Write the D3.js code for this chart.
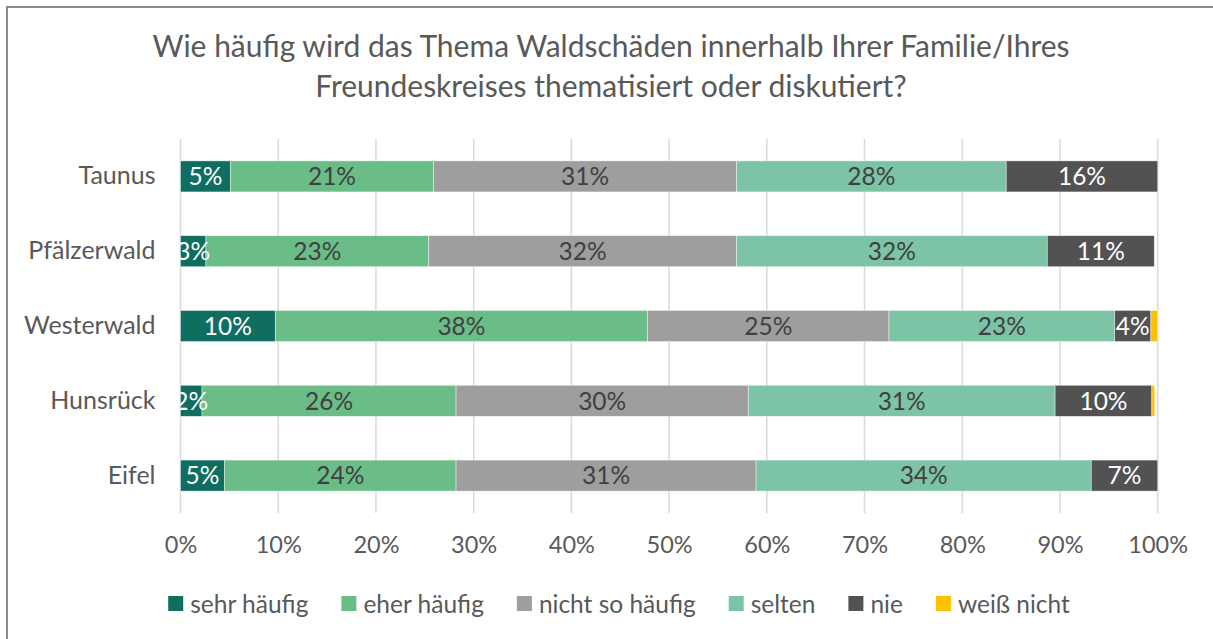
<!DOCTYPE html>
<html>
<head>
<meta charset="utf-8">
<script src="https://cdn.jsdelivr.net/npm/d3@7"></script>
<style>
  body { margin: 0; background: #fff; }
  text { font-family: Lato, "Open Sans", sans-serif; }
</style>
</head>
<body>
<script>
// regions, top to bottom
var regions = ["Taunus", "Pfälzerwald", "Westerwald", "Hunsrück", "Eifel"];

var answers = ["sehr häufig", "eher häufig", "nicht so häufig", "selten", "nie", "weiß nicht"];
var colors = ["#0f6e5f", "#6bbd87", "#9e9e9e", "#7dc4a7", "#525252", "#ffc000"];
var labelColors = ["#fff", "#404040", "#404040", "#404040", "#fff", "#404040"];

// percent per answer, same order as regions
var sehrHaeufig  = [5.1, 2.6, 9.7, 2.2, 4.5];
var eherHaeufig  = [20.8, 22.8, 38.1, 26.0, 23.7];
var nichtSo      = [31.0, 31.5, 24.7, 29.9, 30.7];
var selten       = [27.6, 31.8, 23.1, 31.4, 34.3];
var nie          = [15.5, 10.95, 3.7, 9.9, 6.8];
var weissNicht   = [0, 0, 0.7, 0.3, 0];

var ticks = [0, 10, 20, 30, 40, 50, 60, 70, 80, 90, 100];

var W = 1213, H = 639;
var series = [sehrHaeufig, eherHaeufig, nichtSo, selten, nie, weissNicht];
var rows = regions.map(function(r, i) {
  var o = { region: r };
  answers.forEach(function(a, k) { o[a] = series[k][i]; });
  return o;
});

var svg = d3.select("body").append("svg")
  .attr("width", W)
  .attr("height", H);

// chart border, cut off on the right and bottom like the screenshot
svg.append("rect")
  .attr("x", 7).attr("y", 7)
  .attr("width", W + 20).attr("height", H + 20)
  .attr("fill", "#fff")
  .attr("stroke", "#8c8c8c")
  .attr("stroke-width", 2);

// title
var title = svg.append("text")
  .attr("text-anchor", "middle")
  .attr("fill", "#595959")
  .style("font-size", "30px");
title.append("tspan").attr("x", 611).attr("y", 57)
  .text("Wie häufig wird das Thema Waldschäden innerhalb Ihrer Familie/Ihres");
title.append("tspan").attr("x", 611).attr("y", 97)
  .text("Freundeskreises thematisiert oder diskutiert?");

var x = d3.scaleLinear().domain([0, 100]).range([180.5, 1157.7]);
var y = d3.scaleBand().domain(regions).range([139, 513])
  .paddingInner(0.585).paddingOuter(0.2925);

// gridlines
svg.append("g").selectAll("line")
  .data(ticks)
  .join("line")
  .attr("x1", function(d) { return x(d); })
  .attr("x2", function(d) { return x(d); })
  .attr("y1", 139).attr("y2", 513)
  .attr("stroke", "#d9d9d9")
  .attr("stroke-width", 1.5);

// x axis labels
var xAxis = svg.append("g")
  .attr("transform", "translate(0,513)")
  .call(d3.axisBottom(x).tickValues(ticks).tickSize(0).tickPadding(23)
    .tickFormat(function(d) { return d + "%"; }));
xAxis.select(".domain").remove();
xAxis.selectAll("text")
  .attr("fill", "#595959")
  .style("font-size", "23.5px")
  .style("font-family", "Lato, sans-serif");

// y axis labels
var yAxis = svg.append("g")
  .attr("transform", "translate(180.5,0)")
  .call(d3.axisLeft(y).tickSize(0).tickPadding(25));
yAxis.select(".domain").remove();
yAxis.selectAll("text")
  .attr("fill", "#595959")
  .style("font-size", "25px")
  .style("font-family", "Lato, sans-serif");

var stacked = d3.stack().keys(answers)(rows);

svg.append("defs").append("clipPath").attr("id", "plot")
  .append("rect")
  .attr("x", x(0)).attr("y", 130)
  .attr("width", x(100) - x(0) + 5).attr("height", 400);

var layers = svg.append("g").selectAll("g")
  .data(stacked)
  .join("g")
  .attr("fill", function(d, i) { return colors[i]; });

layers.selectAll("rect")
  .data(function(d) { return d; })
  .join("rect")
  .attr("x", function(d) { return x(d[0]); })
  .attr("y", function(d) { return y(d.data.region); })
  .attr("width", function(d) { return x(d[1]) - x(d[0]); })
  .attr("height", y.bandwidth())
  .attr("stroke", "#fff")
  .attr("stroke-opacity", 0.6)
  .attr("stroke-width", 0.7);

// value labels
var labels = svg.append("g").attr("clip-path", "url(#plot)");
stacked.forEach(function(layer, k) {
  labels.selectAll(null)
    .data(layer.filter(function(d) { return d[1] - d[0] >= 1; }))
    .join("text")
    .attr("x", function(d) { return x((d[0] + d[1]) / 2); })
    .attr("y", function(d) { return y(d.data.region) + y.bandwidth() / 2; })
    .attr("dy", "0.36em")
    .attr("text-anchor", "middle")
    .attr("fill", labelColors[k])
    .style("font-size", "24.5px")
    .text(function(d) { return Math.round(d[1] - d[0]) + "%"; });
});

// legend
var legend = svg.append("g").attr("transform", "translate(0,604)");
var items = legend.selectAll("g")
  .data(answers)
  .join("g");
items.append("rect")
  .attr("width", 15).attr("height", 15)
  .attr("y", -8)
  .attr("fill", function(d, i) { return colors[i]; });
items.append("text")
  .attr("x", 22)
  .attr("dy", "0.35em")
  .attr("fill", "#595959")
  .style("font-size", "24.5px")
  .text(function(d) { return d; });

var gap = 33, widths = [];
items.each(function() {
  widths.push(22 + d3.select(this).select("text").node().getComputedTextLength());
});
var total = d3.sum(widths) + gap * (widths.length - 1);
var cx = 619 - total / 2;
items.attr("transform", function(d, i) {
  var t = "translate(" + cx + ",0)";
  cx += widths[i] + gap;
  return t;
});
</script>
</body>
</html>
